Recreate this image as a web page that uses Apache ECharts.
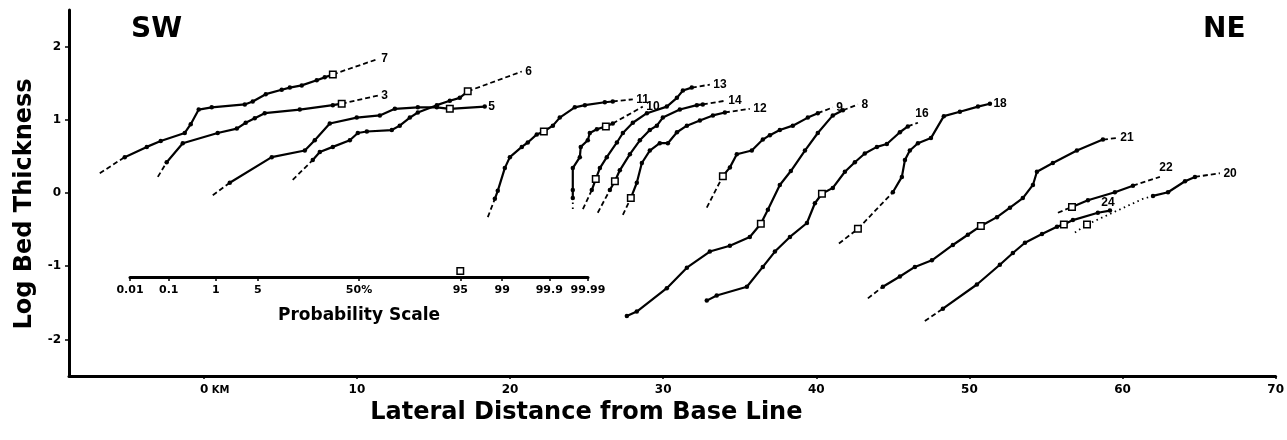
<!DOCTYPE html>
<html>
<head>
    <meta charset="utf-8" />
    <title>Log Bed Thickness</title>
    <script src="https://cdn.jsdelivr.net/npm/echarts@6/dist/echarts.min.js"></script>
    <style type="text/css">
        html, body { margin: 0; padding: 0; background: #fff; }
        #chart { width: 1287px; height: 440px; }
    </style>
</head>
<body>
    <div id="chart"></div>
    <script>
        // axis ticks
        const xTicks = [0, 10, 20, 30, 40, 50, 60, 70];
        const yTicks = [-2, -1, 0, 1, 2];
        const probTicks = [0.01, 0.1, 1, 5, 50, 95, 99, 99.9, 99.99];
        const probTickText = ['0.01', '0.1', '1', '5', '50%', '95', '99', '99.9', '99.99'];
        const probMarker = [95];

        // curves: [km, log thickness]; Lead / Tail are the dashed ends, Box is the open square
        const c7Lead = [[-6.79, 0.27], [-5.16, 0.49]];
        const c7Line = [[-5.16, 0.49], [-3.72, 0.63], [-2.81, 0.71], [-1.24, 0.82], [-0.85, 0.94], [-0.33, 1.14], [0.52, 1.17], [2.68, 1.21], [3.20, 1.25], [4.05, 1.35], [5.09, 1.41], [5.62, 1.44], [6.40, 1.47], [7.38, 1.54], [7.90, 1.58], [8.43, 1.62]];
        const c7Tail = [[8.43, 1.62], [11.37, 1.83]];
        const c7Box = [8.43, 1.62];

        const c3Lead = [[-3.00, 0.22], [-2.42, 0.42]];
        const c3Line = [[-2.42, 0.42], [-1.37, 0.68], [0.91, 0.82], [2.16, 0.88], [2.74, 0.96], [3.33, 1.02], [3.98, 1.09], [6.27, 1.14], [8.43, 1.20], [9.01, 1.22]];
        const c3Tail = [[9.01, 1.22], [11.37, 1.33]];
        const c3Box = [9.01, 1.22];

        const c5Lead = [[0.59, -0.03], [1.70, 0.14]];
        const c5Line = [[1.70, 0.14], [4.44, 0.49], [6.60, 0.58], [7.25, 0.72], [8.23, 0.95], [9.99, 1.03], [11.50, 1.06], [12.48, 1.15], [13.98, 1.17], [15.22, 1.17], [16.07, 1.15], [18.35, 1.18]];
        const c5Tail = [];
        const c5Box = [16.07, 1.15];

        const c6Lead = [[5.81, 0.18], [7.12, 0.45]];
        const c6Line = [[7.12, 0.45], [7.58, 0.56], [8.43, 0.63], [9.54, 0.72], [10.06, 0.82], [10.65, 0.84], [12.28, 0.86], [12.80, 0.92], [13.46, 1.03], [13.98, 1.10], [15.22, 1.20], [16.07, 1.26], [16.72, 1.30], [17.24, 1.39]];
        const c6Tail = [[17.24, 1.39], [20.77, 1.66]];
        const c6Box = [17.24, 1.39];

        const c11Lead = [[18.55, -0.33], [19.01, -0.08]];
        const c11Line = [[19.01, -0.08], [19.20, 0.03], [19.66, 0.34], [19.99, 0.49], [20.77, 0.63], [21.16, 0.69], [21.75, 0.80], [22.21, 0.84], [22.80, 0.92], [23.25, 1.03], [24.23, 1.17], [24.89, 1.20], [26.19, 1.24], [26.71, 1.25]];
        const c11Tail = [[26.71, 1.25], [28.02, 1.28]];
        const c11Box = [22.21, 0.84];

        const c10Lead = [[24.10, -0.22], [24.10, -0.07]];
        const c10Line = [[24.10, -0.07], [24.10, 0.04], [24.10, 0.34], [24.56, 0.49], [24.62, 0.63], [25.08, 0.72], [25.21, 0.82], [25.67, 0.87], [26.26, 0.91], [26.71, 0.95]];
        const c10Tail = [[26.71, 0.95], [28.67, 1.18]];
        const c10Box = [26.26, 0.91];

        const c13Lead = [[24.76, -0.22], [25.34, 0.04]];
        const c13Line = [[25.34, 0.04], [25.60, 0.19], [25.87, 0.34], [26.32, 0.49], [26.98, 0.69], [27.37, 0.82], [28.02, 0.96], [28.94, 1.09], [30.24, 1.18], [30.90, 1.30], [31.29, 1.40], [31.87, 1.44]];
        const c13Tail = [[31.87, 1.44], [33.05, 1.48]];
        const c13Box = [25.60, 0.19];

        const c14Lead = [[25.73, -0.27], [26.52, 0.04]];
        const c14Line = [[26.52, 0.04], [26.85, 0.16], [27.17, 0.31], [27.83, 0.53], [28.48, 0.72], [29.13, 0.86], [29.59, 0.92], [29.98, 1.03], [31.09, 1.14], [32.20, 1.20], [32.59, 1.21]];
        const c14Tail = [[32.59, 1.21], [34.03, 1.26]];
        const c14Box = [26.85, 0.16];

        const c12Lead = [[27.37, -0.30], [27.89, -0.07]];
        const c12Line = [[27.89, -0.07], [28.28, 0.14], [28.61, 0.41], [29.13, 0.58], [29.78, 0.68], [30.31, 0.68], [30.90, 0.83], [31.55, 0.92], [32.40, 0.99], [33.25, 1.06], [34.03, 1.10]];
        const c12Tail = [[34.03, 1.10], [35.66, 1.15]];
        const c12Box = [27.89, -0.07];

        const c9Lead = [[32.85, -0.20], [33.90, 0.23]];
        const c9Line = [[33.90, 0.23], [34.36, 0.35], [34.81, 0.53], [35.79, 0.58], [36.51, 0.73], [36.97, 0.79], [37.62, 0.86], [38.47, 0.92], [39.45, 1.03], [40.10, 1.09]];
        const c9Tail = [[40.10, 1.09], [41.08, 1.17]];
        const c9Box = [33.90, 0.23];

        const c8Lead = [];
        const c8Line = [[27.63, -1.68], [28.28, -1.62], [30.24, -1.30], [31.55, -1.02], [33.05, -0.80], [34.36, -0.72], [35.66, -0.60], [36.38, -0.42], [36.84, -0.23], [37.62, 0.11], [38.34, 0.30], [39.26, 0.58], [40.10, 0.82], [41.08, 1.06], [41.74, 1.13]];
        const c8Tail = [[41.74, 1.13], [42.72, 1.21]];
        const c8Box = [36.38, -0.42];

        const c16Lead = [];
        const c16Line = [[32.85, -1.47], [33.50, -1.40], [35.47, -1.28], [36.51, -1.01], [37.30, -0.80], [38.28, -0.60], [39.39, -0.41], [39.91, -0.14], [40.37, -0.01], [41.08, 0.07], [41.87, 0.29], [42.52, 0.42], [43.17, 0.54], [43.96, 0.63], [44.61, 0.67], [45.46, 0.83], [45.98, 0.91]];
        const c16Tail = [[45.98, 0.91], [46.64, 0.96]];
        const c16Box = [40.37, -0.01];

        const c18Lead = [[41.48, -0.69], [42.72, -0.49], [45.00, 0.01]];
        const c18Line = [[45.00, 0.01], [45.59, 0.22], [45.79, 0.45], [46.11, 0.58], [46.64, 0.68], [47.49, 0.75], [48.33, 1.05], [49.38, 1.11], [50.56, 1.18], [51.34, 1.22]];
        const c18Tail = [];
        const c18Box = [42.72, -0.49];

        const c21Lead = [[43.37, -1.44], [44.35, -1.28]];
        const c21Line = [[44.35, -1.28], [45.46, -1.14], [46.44, -1.01], [47.55, -0.92], [48.92, -0.71], [49.90, -0.57], [50.75, -0.45], [51.80, -0.33], [52.65, -0.20], [53.49, -0.07], [54.15, 0.11], [54.41, 0.29], [55.45, 0.41], [57.02, 0.58], [58.72, 0.73]];
        const c21Tail = [[58.72, 0.73], [59.63, 0.75]];
        const c21Box = [50.75, -0.45];

        const c24Lead = [[47.09, -1.75], [48.27, -1.58]];
        const c24Line = [[48.27, -1.58], [50.49, -1.25], [51.99, -0.98], [52.84, -0.82], [53.63, -0.68], [54.74, -0.56], [55.72, -0.46], [56.17, -0.43], [56.76, -0.37], [58.39, -0.27], [59.18, -0.24]];
        const c24Tail = [];
        const c24Box = [56.17, -0.43];

        const c22Lead = [[55.78, -0.27], [56.70, -0.19]];
        const c22Line = [[56.70, -0.19], [57.74, -0.10], [59.50, 0.01], [60.68, 0.10]];
        const c22Tail = [[60.68, 0.10], [62.44, 0.22]];
        const c22Box = [56.70, -0.19];

        const c20Lead = [[56.89, -0.54], [57.68, -0.43], [61.33, -0.08], [61.99, -0.04]];
        const c20Line = [[61.99, -0.04], [62.97, 0.01], [64.08, 0.16], [64.73, 0.22]];
        const c20Tail = [[64.73, 0.22], [66.36, 0.27]];
        const c20Box = [57.68, -0.43];

        const curves = [
            ['7', c7Lead, c7Line, c7Tail, c7Box],
            ['3', c3Lead, c3Line, c3Tail, c3Box],
            ['5', c5Lead, c5Line, c5Tail, c5Box],
            ['6', c6Lead, c6Line, c6Tail, c6Box],
            ['11', c11Lead, c11Line, c11Tail, c11Box],
            ['10', c10Lead, c10Line, c10Tail, c10Box],
            ['13', c13Lead, c13Line, c13Tail, c13Box],
            ['14', c14Lead, c14Line, c14Tail, c14Box],
            ['12', c12Lead, c12Line, c12Tail, c12Box],
            ['9', c9Lead, c9Line, c9Tail, c9Box],
            ['8', c8Lead, c8Line, c8Tail, c8Box],
            ['16', c16Lead, c16Line, c16Tail, c16Box],
            ['18', c18Lead, c18Line, c18Tail, c18Box],
            ['21', c21Lead, c21Line, c21Tail, c21Box],
            ['24', c24Lead, c24Line, c24Tail, c24Box],
            ['22', c22Lead, c22Line, c22Tail, c22Box],
            ['20', c20Lead, c20Line, c20Tail, c20Box]
        ];

        // inverse normal CDF (Acklam), for the probability scale
        function probit(p) {
            const a = [-3.969683028665376e+01, 2.209460984245205e+02, -2.759285104469687e+02, 1.383577518672690e+02, -3.066479806614716e+01, 2.506628277459239e+00];
            const b = [-5.447609879822406e+01, 1.615858368580409e+02, -1.556989798598866e+02, 6.680131188771972e+01, -1.328068155288572e+01];
            const c = [-7.784894002430293e-03, -3.223964580411365e-01, -2.400758277161838e+00, -2.549732539343734e+00, 4.374664141464968e+00, 2.938163982698783e+00];
            const d = [7.784695709041462e-03, 3.224671290700398e-01, 2.445134137142996e+00, 3.754408661907416e+00];
            const pl = 0.02425;
            if (p < pl) {
                const q = Math.sqrt(-2 * Math.log(p));
                return (((((c[0] * q + c[1]) * q + c[2]) * q + c[3]) * q + c[4]) * q + c[5]) / ((((d[0] * q + d[1]) * q + d[2]) * q + d[3]) * q + 1);
            }
            if (p > 1 - pl) {
                const q = Math.sqrt(-2 * Math.log(1 - p));
                return -(((((c[0] * q + c[1]) * q + c[2]) * q + c[3]) * q + c[4]) * q + c[5]) / ((((d[0] * q + d[1]) * q + d[2]) * q + d[3]) * q + 1);
            }
            const q = p - 0.5, r = q * q;
            return (((((a[0] * r + a[1]) * r + a[2]) * r + a[3]) * r + a[4]) * r + a[5]) * q / (((((b[0] * r + b[1]) * r + b[2]) * r + b[3]) * r + b[4]) * r + 1);
        }
        const zTicks = probTicks.map(p => probit(p / 100));

        const black = '#000';
        const bold = { color: black, fontWeight: 'bold', fontFamily: 'DejaVu Sans' };
        const dottedLeads = ['10', '20'];
        const labelShift = { '16': ['top', [4, 0]], '22': ['top', [6, 0]], '24': ['top', [-2, 2]] };
        const boxStyle = { color: '#fff', borderColor: black, borderWidth: 1.5, opacity: 1 };

        function dashed(data, pattern) {
            return {
                type: 'line', data: data, symbol: 'none', silent: true, z: 2,
                lineStyle: { color: black, width: 1.8, type: pattern }
            };
        }

        const series = [];
        curves.forEach(([name, lead, line, tail]) => {
            if (lead.length) series.push(dashed(lead, dottedLeads.includes(name) ? [1.5, 3.5] : [5, 3]));
            series.push({
                type: 'line', name: name, data: line, z: 3,
                symbol: 'circle', symbolSize: 4.5, showSymbol: true,
                lineStyle: { color: black, width: 2.2 },
                itemStyle: { color: black, opacity: 1 }
            });
            if (tail.length) series.push(dashed(tail, [5, 3]));
        });

        // open squares
        series.push({
            type: 'scatter', z: 5, symbol: 'rect', symbolSize: 6.5,
            data: curves.map(c => c[4]),
            itemStyle: boxStyle
        });

        // curve numbers at the end of each curve
        series.push({
            type: 'scatter', z: 6, symbolSize: 1, silent: true,
            itemStyle: { color: 'rgba(0,0,0,0)', opacity: 1 },
            data: curves.map(([name, lead, line, tail]) => {
                const end = tail.length ? tail[tail.length - 1] : line[line.length - 1];
                const s = labelShift[name] || ['right', [0, 0]];
                return {
                    name: name, value: end,
                    label: { position: s[0], offset: s[1] }
                };
            }),
            label: {
                show: true, formatter: '{b}', distance: 3, opacity: 1,
                color: black, fontWeight: 'bold', fontFamily: 'Liberation Sans', fontSize: 12
            }
        });

        // square on the probability scale
        series.push({
            type: 'scatter', xAxisIndex: 1, yAxisIndex: 1, z: 5,
            symbol: 'rect', symbolSize: 6.5,
            data: probMarker.map(p => [probit(p / 100), 0.55]),
            itemStyle: boxStyle
        });

        const chart = echarts.init(document.getElementById('chart'));
        chart.setOption({
            animation: false,
            backgroundColor: '#fff',
            title: [
                { text: 'SW', left: 131, top: 16, padding: 0, textStyle: Object.assign({ fontSize: 28 }, bold) },
                { text: 'NE', left: 1203, top: 16, padding: 0, textStyle: Object.assign({ fontSize: 28 }, bold) }
            ],
            grid: [
                { left: 69, right: 11, top: 10, bottom: 64 },
                { left: 130, width: 458, top: 266, height: 11 }
            ],
            xAxis: [
                {
                    type: 'value', min: -8.8, max: 70,
                    axisLine: { show: true, onZero: false, lineStyle: { color: black, width: 3 } },
                    axisTick: { show: true, customValues: xTicks, length: 3, lineStyle: { color: black, width: 1.5 } },
                    axisLabel: {
                        customValues: xTicks, margin: 8, color: black,
                        formatter: v => v === 0 ? '{pad|}{n|0}{k| KM}' : '{n|' + v + '}',
                        rich: {
                            n: Object.assign({ fontSize: 12 }, bold),
                            k: Object.assign({ fontSize: 10 }, bold),
                            pad: { width: 22 }
                        }
                    },
                    splitLine: { show: false },
                    name: 'Lateral Distance from Base Line',
                    nameLocation: 'middle', nameGap: 22,
                    nameTextStyle: Object.assign({ fontSize: 24, padding: [0, 172, 0, 0] }, bold)
                },
                {
                    type: 'value', gridIndex: 1, min: zTicks[0], max: zTicks[zTicks.length - 1],
                    axisLine: { show: true, onZero: false, lineStyle: { color: black, width: 3 } },
                    axisTick: { show: true, customValues: zTicks, length: 4, lineStyle: { color: black, width: 1.5 } },
                    axisLabel: {
                        customValues: zTicks, margin: 8,
                        formatter: v => {
                            const i = zTicks.findIndex(z => Math.abs(z - v) < 1e-6);
                            return i < 0 ? '' : probTickText[i];
                        },
                        ...bold, fontSize: 11
                    },
                    splitLine: { show: false },
                    name: 'Probability Scale',
                    nameLocation: 'middle', nameGap: 30,
                    nameTextStyle: Object.assign({ fontSize: 17 }, bold)
                }
            ],
            yAxis: [
                {
                    type: 'value', min: -2.5, max: 2.5,
                    axisLine: { show: true, onZero: false, lineStyle: { color: black, width: 3 } },
                    axisTick: { show: true, customValues: yTicks, length: 4, lineStyle: { color: black, width: 1.5 } },
                    axisLabel: Object.assign({ customValues: yTicks, margin: 8, fontSize: 12 }, bold),
                    splitLine: { show: false },
                    name: 'Log Bed Thickness',
                    nameLocation: 'middle', nameGap: 30, nameRotate: 90,
                    nameTextStyle: Object.assign({ fontSize: 24, padding: [0, 22, 0, 0] }, bold)
                },
                { type: 'value', gridIndex: 1, min: 0, max: 1, show: false }
            ],
            series: series
        });
    </script>
</body>
</html>
